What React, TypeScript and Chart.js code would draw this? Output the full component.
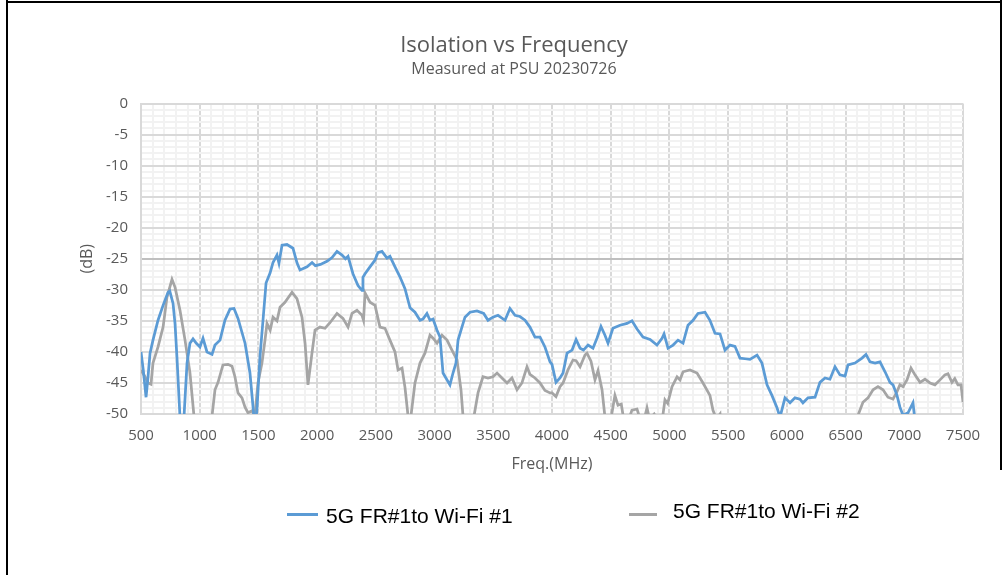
import React, { useEffect, useRef } from "react";
import { Chart, registerables } from "chart.js";

Chart.register(...registerables);

// ---------- data ----------
const chartTitle = "Isolation vs Frequency";
const chartSubtitle = "Measured at PSU 20230726";
const xAxisTitle = "Freq.(MHz)";
const yAxisTitle = "(dB)";
const seriesNames = ["5G FR#1to Wi-Fi #1", "5G FR#1to Wi-Fi #2"];
const seriesColors = ["#5b9bd5", "#a5a5a5"];

const xTickLabels = ["500", "1000", "1500", "2000", "2500", "3000", "3500", "4000", "4500", "5000", "5500", "6000", "6500", "7000", "7500"];
const yTickLabels = ["0", "-5", "-10", "-15", "-20", "-25", "-30", "-35", "-40", "-45", "-50"];

const wifi1Freq = [
  500, 520, 543, 560, 577, 602, 645, 688, 730, 745, 773, 790, 806, 832, 850, 866, 892, 917, 943, 971,
  1002, 1028, 1062, 1105, 1130, 1173, 1215, 1258, 1292, 1326, 1386, 1428, 1462, 1475, 1488, 1513, 1539, 1565, 1599, 1624,
  1658, 1675, 1701, 1743, 1794, 1829, 1854, 1914, 1957, 1985, 2028, 2084, 2127, 2169, 2212, 2241, 2263, 2305, 2348, 2382,
  2390, 2408, 2450, 2493, 2518, 2552, 2595, 2620, 2663, 2705, 2748, 2791, 2833, 2876, 2901, 2935, 2961, 2987, 3021, 3046,
  3072, 3131, 3157, 3182, 3200, 3233, 3259, 3302, 3361, 3418, 3455, 3497, 3540, 3600, 3642, 3685, 3727, 3770, 3812, 3855,
  3898, 3940, 3983, 4000, 4034, 4068, 4094, 4128, 4171, 4205, 4239, 4268, 4307, 4349, 4383, 4417, 4451, 4477, 4519, 4579,
  4639, 4681, 4724, 4775, 4835, 4894, 4937, 4954, 4988, 5031, 5073, 5116, 5158, 5201, 5243, 5303, 5345, 5388, 5431, 5473,
  5516, 5558, 5601, 5644, 5686, 5746, 5788, 5831, 5873, 5916, 5942, 5984, 6027, 6069, 6112, 6137, 6180, 6240, 6282, 6325,
  6367, 6410, 6452, 6495, 6521, 6580, 6640, 6674, 6708, 6751, 6793, 6836, 6878, 6904, 6938, 6963, 6989, 7032, 7074, 7091,
  7110, 7200, 7500,
];
const wifi1Db = [
  -40, -43, -47.3, -44, -40.2, -38.1, -34.9, -32.5, -30.4, -30.2, -32.2, -35.5, -40.8, -50.5, -56, -50.5, -41.8, -38.6, -37.9, -38.6,
  -39.2, -37.8, -40.0, -40.4, -38.9, -38.1, -34.9, -33.1, -33.0, -34.6, -38.6, -43.4, -50.5, -52, -49, -40.8, -34.9, -28.9, -27.3, -25.6,
  -24.4, -25.7, -22.8, -22.7, -23.3, -25.7, -26.8, -26.3, -25.6, -26.1, -25.9, -25.4, -24.8, -23.8, -24.4, -25.0, -24.6, -27.4, -29.3, -30.1,
  -28.0, -27.4, -26.3, -25.2, -24.0, -23.8, -24.9, -24.6, -26.3, -27.9, -29.8, -32.9, -33.6, -34.9, -34.7, -33.8, -34.9, -34.7, -36.5, -37.6,
  -43.4, -45.3, -43.4, -41.8, -38.1, -36.0, -34.4, -33.6, -33.4, -33.8, -34.9, -34.4, -34.1, -34.9, -33.0, -34.1, -34.3, -34.9, -36.0, -37.6,
  -37.6, -39.2, -41.6, -42.0, -44.9, -44.2, -43.4, -40.2, -39.7, -38.0, -39.4, -39.7, -38.9, -39.4, -37.8, -35.9, -37.3, -38.6, -36.2, -35.7,
  -35.4, -35.0, -36.3, -37.6, -38.0, -38.9, -37.8, -37.1, -39.4, -38.9, -38.1, -38.6, -35.7, -34.9, -33.8, -33.6, -34.9, -37.0, -37.1, -39.7,
  -38.9, -39.1, -41.0, -41.1, -41.2, -40.5, -41.8, -45.3, -47.0, -49.0, -50.5, -47.4, -48.2, -47.4, -47.6, -48.2, -47.4, -47.3, -44.9, -44.2,
  -44.4, -42.4, -43.7, -43.9, -42.1, -41.8, -41.0, -40.4, -41.6, -41.8, -41.6, -43.2, -44.9, -45.3, -47.0, -48.9, -50.2, -49.8, -48.2, -51,
  -55, -58, -58,
];

const wifi2Freq = [
  500, 534, 560, 585, 602, 645, 688, 721, 764, 790, 832, 875, 917, 951, 980, 1080, 1105, 1130, 1156, 1198,
  1241, 1275, 1300, 1326, 1360, 1386, 1411, 1445, 1470, 1496, 1530, 1556, 1573, 1600, 1624, 1658, 1684, 1726, 1786, 1828,
  1871, 1897, 1922, 1956, 1982, 2024, 2067, 2109, 2169, 2220, 2263, 2297, 2339, 2382, 2395, 2408, 2450, 2493, 2535, 2578,
  2620, 2663, 2689, 2723, 2748, 2774, 2787, 2799, 2833, 2876, 2918, 2961, 2987, 3021, 3063, 3106, 3148, 3191, 3225, 3242,
  3290, 3336, 3370, 3412, 3455, 3497, 3532, 3574, 3617, 3659, 3702, 3744, 3787, 3812, 3855, 3898, 3940, 3983, 4000, 4034,
  4068, 4094, 4136, 4179, 4205, 4239, 4281, 4298, 4332, 4366, 4392, 4426, 4451, 4500, 4536, 4562, 4590, 4610, 4650, 4681,
  4724, 4750, 4790, 4809, 4830, 4870, 4900, 4940, 4962, 4985, 5022, 5065, 5090, 5116, 5175, 5235, 5286, 5345, 5371, 5400,
  5431, 5450, 5500, 6550, 6606, 6648, 6691, 6734, 6776, 6819, 6861, 6904, 6938, 6963, 6989, 7023, 7057, 7091, 7134, 7176,
  7219, 7261, 7304, 7346, 7372, 7406, 7430, 7457, 7483, 7500,
];
const wifi2Db = [
  -42.9, -44.0, -45.0, -45.2, -41.8, -39.2, -36.0, -31.2, -28.3, -29.6, -33.3, -38.1, -43.4, -50.3, -56, -56, -50.3, -46.1, -44.9, -42.1,
  -42.0, -42.3, -44.0, -46.6, -47.4, -48.9, -49.8, -49.5, -50.3, -45.0, -41.8, -38.1, -35.4, -36.5, -34.4, -35.0, -32.8, -32.0, -30.4, -31.4,
  -34.4, -38.6, -45.3, -40.2, -36.5, -36.0, -36.2, -35.3, -33.8, -34.6, -36.0, -33.8, -33.3, -34.1, -34.9, -30.5, -32.0, -32.5, -36.0, -36.2,
  -38.1, -40.0, -42.9, -42.6, -45.7, -50.3, -54, -50.3, -45.0, -41.8, -40.2, -37.3, -37.8, -38.6, -37.3, -38.1, -39.7, -41.3, -46.1, -50.3,
  -56, -50.3, -46.6, -44.0, -44.2, -44.0, -43.4, -44.2, -45.0, -44.2, -46.1, -45.0, -42.4, -43.6, -44.2, -45.0, -46.2, -46.6, -46.6, -47.2,
  -45.6, -45.0, -42.9, -41.3, -41.4, -42.4, -40.5, -40.2, -41.5, -44.5, -43.0, -46.1, -50.5, -51, -47.0, -48.6, -48.4, -50.8, -51, -49.4,
  -49.2, -50.8, -50.5, -49.0, -50.8, -50.0, -51, -50.8, -47.7, -48.3, -45.6, -44.0, -44.5, -43.2, -42.9, -43.4, -45.0, -47.0, -49.4, -50.8,
  -50.0, -55, -58, -58, -50.2, -48.1, -47.4, -46.1, -45.6, -46.1, -47.3, -47.6, -46.4, -45.3, -45.6, -44.5, -42.6, -43.7, -44.9, -44.4,
  -45.0, -45.3, -44.5, -43.7, -43.5, -44.9, -44.3, -45.3, -45.3, -48.1,
];

// ---------- styles ----------
const AXIS_FONT = "'Open Sans', 'Noto Sans', sans-serif";
const TEXT_GREY = "#595959";
const MAJOR_GRID = "#d9d9d9";
const MINOR_GRID = "#f2f2f2";
const CROSS_LINE = "#bfbfbf";

function toPoints(xs: number[], ys: number[]) {
  return xs.map((x, i) => ({ x, y: ys[i] }));
}

export default function App() {
  const canvasRef = useRef<HTMLCanvasElement | null>(null);

  useEffect(() => {
    const canvas = canvasRef.current;
    if (!canvas) return;
    const chart = new Chart(canvas, {
      type: "line",
      data: {
        datasets: [
          {
            label: seriesNames[0],
            data: toPoints(wifi1Freq, wifi1Db),
            borderColor: seriesColors[0],
            backgroundColor: seriesColors[0],
            borderWidth: 2.75,
            pointRadius: 0,
            tension: 0,
          },
          {
            label: seriesNames[1],
            data: toPoints(wifi2Freq, wifi2Db),
            borderColor: seriesColors[1],
            backgroundColor: seriesColors[1],
            borderWidth: 2.75,
            pointRadius: 0,
            tension: 0,
          },
        ],
      },
      options: {
        animation: false,
        responsive: false,
        maintainAspectRatio: false,
        devicePixelRatio: 1,
        events: [],
        layout: { padding: { left: 65, right: 41, top: 0, bottom: 101 } },
        plugins: {
          legend: { display: false },
          tooltip: { enabled: false },
          title: {
            display: true,
            text: chartTitle,
            color: TEXT_GREY,
            font: { family: AXIS_FONT, size: 22, weight: "normal" },
            padding: { top: 33, bottom: 0 },
          },
          subtitle: {
            display: true,
            text: chartSubtitle,
            color: TEXT_GREY,
            font: { family: AXIS_FONT, size: 16, weight: "normal" },
            padding: { top: 0, bottom: 25 },
          },
        },
        scales: {
          x: {
            type: "linear",
            min: 500,
            max: 7500,
            afterFit: (s: any) => {
              s.height = 60;
            },
            ticks: {
              stepSize: 100,
              autoSkip: false,
              maxRotation: 0,
              minRotation: 0,
              padding: 13,
              color: TEXT_GREY,
              font: { family: AXIS_FONT, size: 15 },
              callback: (v: any) => {
                const s = String(v);
                return xTickLabels.includes(s) ? s : "";
              },
            },
            grid: {
              drawTicks: false,
              lineWidth: 2,
              color: (ctx: any) => (ctx.tick && ctx.tick.value % 500 === 0 ? MAJOR_GRID : MINOR_GRID),
            },
            border: { display: true, color: MAJOR_GRID, width: 2 },
            title: {
              display: true,
              text: xAxisTitle,
              color: TEXT_GREY,
              font: { family: AXIS_FONT, size: 16 },
              padding: { top: 0, bottom: 0 },
            },
          },
          y: {
            type: "linear",
            min: -50,
            max: 0,
            afterFit: (s: any) => {
              s.width = 76;
            },
            ticks: {
              stepSize: 1,
              autoSkip: false,
              padding: 13,
              color: TEXT_GREY,
              font: { family: AXIS_FONT, size: 15 },
              callback: (v: any) => {
                const s = String(v);
                return yTickLabels.includes(s) ? s : "";
              },
            },
            grid: {
              drawTicks: false,
              lineWidth: 2,
              color: (ctx: any) => {
                if (!ctx.tick) return MINOR_GRID;
                if (ctx.tick.value === -25) return CROSS_LINE;
                return ctx.tick.value % 5 === 0 ? MAJOR_GRID : MINOR_GRID;
              },
            },
            border: { display: true, color: MAJOR_GRID, width: 2 },
            title: {
              display: true,
              text: yAxisTitle,
              color: TEXT_GREY,
              font: { family: AXIS_FONT, size: 16 },
              padding: { top: 13, bottom: 0 },
            },
          },
        },
      },
    } as any);
    return () => chart.destroy();
  }, []);

  const legendText: React.CSSProperties = {
    position: "absolute",
    fontFamily: "'Liberation Sans', Arial, sans-serif",
    fontSize: 21,
    color: "#000",
    whiteSpace: "nowrap",
    lineHeight: "24px",
  };

  return (
    <div style={{ position: "absolute", left: 0, top: 0, width: 1004, height: 575, background: "#fff", overflow: "hidden" }}>
      <canvas ref={canvasRef} width={1004} height={575} style={{ position: "absolute", left: 0, top: 0, width: 1004, height: 575 }} />
      {/* frame */}
      <div style={{ position: "absolute", left: 6, top: 0, width: 2, height: 575, background: "#000" }} />
      <div style={{ position: "absolute", left: 6, top: 1, width: 996, height: 2, background: "#000" }} />
      <div style={{ position: "absolute", left: 1000, top: 0, width: 2, height: 470, background: "#000" }} />
      {/* legend */}
      <div style={{ position: "absolute", left: 287, top: 513, width: 31, height: 3, background: seriesColors[0] }} />
      <div style={{ ...legendText, left: 326, top: 504 }}>{seriesNames[0]}</div>
      <div style={{ position: "absolute", left: 629, top: 513, width: 28, height: 3, background: seriesColors[1] }} />
      <div style={{ ...legendText, left: 673, top: 499 }}>{seriesNames[1]}</div>
    </div>
  );
}
